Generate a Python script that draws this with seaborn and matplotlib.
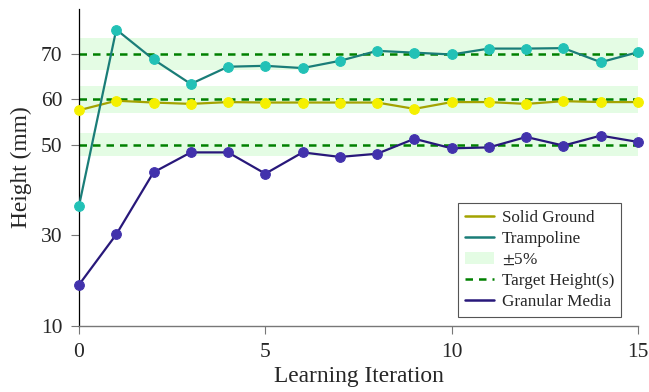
import matplotlib
matplotlib.use("Agg")
import matplotlib.pyplot as plt
import seaborn as sns
import pandas as pd
from matplotlib.lines import Line2D
from matplotlib.patches import Patch

# valores
iteracoes = list(range(16))
solid_ground = [57.6, 59.7, 59.3, 59.0, 59.4, 59.3, 59.3, 59.3, 59.3, 57.9,
                59.4, 59.4, 59.0, 59.6, 59.4, 59.4]
trampoline = [36.5, 75.4, 68.8, 63.4, 67.2, 67.4, 66.9, 68.5, 70.7, 70.3,
              69.9, 71.2, 71.2, 71.3, 68.2, 70.4]
granular = [19.1, 30.2, 43.9, 48.3, 48.3, 43.6, 48.3, 47.3, 48.0, 51.3,
            49.2, 49.4, 51.7, 49.8, 52.0, 50.6]
alvos = [70, 60, 50]
y_ticks = [10, 30, 50, 60, 70]

sns.set_style("white")
plt.rcParams['font.family'] = ['Liberation Serif', 'DejaVu Serif']
plt.rcParams['mathtext.fontset'] = 'stix'

df = pd.DataFrame({'iter': iteracoes, 'solid': solid_ground,
                   'tramp': trampoline, 'gran': granular})

fig, ax = plt.subplots(figsize=(6.49, 3.92), dpi=100)
fig.subplots_adjust(left=79/649, right=638/649, bottom=66/392, top=(392-8.7)/392)

# faixas de ±5% e alturas alvo
for alvo in alvos:
    ax.fill_between([0, 15], alvo * 0.95, alvo * 1.05, color='#e4fce4', lw=0, zorder=0)
    ax.plot([0, 15], [alvo, alvo], color='#008000', ls=(0, (3, 2.4)), lw=1.8, zorder=1)

series = [
    ('solid', '#a3a300', '#f5f000'),
    ('tramp', '#1a7d78', '#22c1b6'),
    ('gran', '#28187a', '#4232ac'),
]
for col, cor_linha, cor_marca in series:
    sns.lineplot(data=df, x='iter', y=col, ax=ax, color=cor_linha, lw=1.6,
                 marker='o', markersize=7, markerfacecolor=cor_marca,
                 markeredgecolor=cor_marca, zorder=3, clip_on=False)

ax.set_xlim(0, 15)
ax.set_ylim(10, 80)
ax.set_xticks([0, 5, 10, 15])
ax.set_yticks(y_ticks)
ax.tick_params(axis='both', direction='out', length=6, width=0.8, color='#777777',
               labelsize=15.5, pad=6, bottom=True, left=True)
ax.set_xlabel('Learning Iteration', fontsize=16.8, labelpad=3)
ax.set_ylabel('Height (mm)', fontsize=16.8, labelpad=6)

for s in ['top', 'right']:
    ax.spines[s].set_visible(False)
ax.spines['left'].set_color('black')
ax.spines['left'].set_linewidth(0.9)
ax.spines['bottom'].set_color('#777777')
ax.spines['bottom'].set_linewidth(1.0)

handles = [
    Line2D([], [], color='#a3a300', lw=1.8),
    Line2D([], [], color='#1a7d78', lw=1.8),
    Patch(facecolor='#e4fce4', edgecolor='none'),
    Line2D([], [], color='#008000', lw=1.8, ls=(0, (3, 2.4))),
    Line2D([], [], color='#28187a', lw=1.8),
]
labels = ['Solid Ground', 'Trampoline', r'$\pm$5%', 'Target Height(s)', 'Granular Media']
leg = ax.legend(handles, labels, loc='lower right', bbox_to_anchor=(0.97, 0.028),
                borderaxespad=0, fontsize=12.3, frameon=True, fancybox=False,
                handlelength=1.7, handletextpad=0.45, labelspacing=0.3,
                borderpad=0.4)
leg.get_frame().set_edgecolor('#555555')
leg.get_frame().set_linewidth(0.8)
leg.get_frame().set_alpha(1)

fig.savefig('out.png', dpi=100)
